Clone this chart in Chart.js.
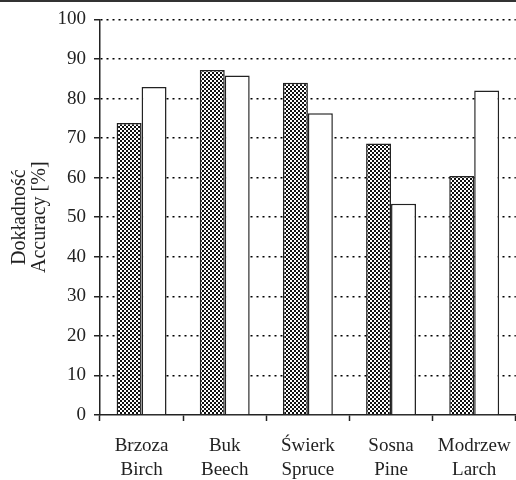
<!DOCTYPE html>
<html>
<head>
<meta charset="utf-8">
<script src="https://cdn.jsdelivr.net/npm/chart.js@4.4.0/dist/chart.umd.min.js"></script>
<style>
  html, body { margin: 0; padding: 0; background: #fff; overflow: hidden; }
</style>
</head>
<body>
<canvas id="chart" width="524" height="480"></canvas>
<script>
// species labels, Polish / English
const categories = [
    ['Brzoza', 'Birch'],
    ['Buk', 'Beech'],
    ['Świerk', 'Spruce'],
    ['Sosna', 'Pine'],
    ['Modrzew', 'Larch']
];
const dottedValues = [73.8, 87.2, 84.0, 68.6, 60.4];
const whiteValues = [82.9, 85.8, 76.3, 53.4, 82.0];
const yTitle = ['Dokładność', 'Accuracy [%]'];

const serif = 'Liberation Serif';

function makeDotPattern() {
    const tile = document.createElement('canvas');
    tile.width = 4;
    tile.height = 4;
    const t = tile.getContext('2d');
    t.fillStyle = '#fff';
    t.fillRect(0, 0, 4, 4);
    t.fillStyle = '#111';
    t.fillRect(0, 0, 2, 2);
    t.fillRect(2, 2, 2, 2);
    return document.getElementById('chart').getContext('2d').createPattern(tile, 'repeat');
}

// dark rule across the top of the picture
const topRule = {
    id: 'topRule',
    afterDraw(chart) {
        const ctx = chart.ctx;
        ctx.save();
        ctx.fillStyle = '#333';
        ctx.fillRect(0, 0, chart.width, 2);
        ctx.restore();
    }
};

new Chart(document.getElementById('chart'), {
    type: 'bar',
    data: {
        labels: categories,
        datasets: [
            {
                data: dottedValues,
                backgroundColor: makeDotPattern(),
                borderColor: '#222',
                borderWidth: 1.5
            },
            {
                data: whiteValues,
                backgroundColor: '#fff',
                borderColor: '#222',
                borderWidth: 1.5
            }
        ]
    },
    options: {
        responsive: false,
        animation: false,
        layout: { padding: { top: 18, right: 4, left: 0, bottom: 0 } },
        datasets: {
            bar: { categoryPercentage: 0.6, barPercentage: 1.0 }
        },
        plugins: {
            legend: { display: false },
            tooltip: { enabled: false }
        },
        scales: {
            x: {
                afterFit: s => { s.height = 65; },
                grid: {
                    offset: true,
                    drawOnChartArea: false,
                    tickLength: 6,
                    tickColor: '#222',
                    tickWidth: 1.5
                },
                border: { color: '#222', width: 1.5 },
                ticks: {
                    color: '#222',
                    padding: 13,
                    font: { family: serif, size: 19, lineHeight: 1.26 }
                }
            },
            y: {
                min: 0,
                max: 100,
                afterFit: s => { s.width = 100; },
                grid: {
                    color: c => (c.tick && c.tick.value === 0) ? 'rgba(0,0,0,0)' : '#000',
                    lineWidth: 1.5,
                    tickBorderDash: [],
                    tickLength: 6,
                    tickColor: '#222',
                    tickWidth: 1.5
                },
                border: { color: '#222', width: 1.5, dash: [2, 4] },
                ticks: {
                    stepSize: 10,
                    color: '#222',
                    padding: 8,
                    font: { family: serif, size: 19 }
                },
                title: {
                    display: true,
                    text: yTitle,
                    color: '#222',
                    padding: { top: 10, bottom: 0 },
                    font: { family: serif, size: 20, lineHeight: 1.0 }
                }
            }
        }
    },
    plugins: [topRule]
});
</script>
</body>
</html>
